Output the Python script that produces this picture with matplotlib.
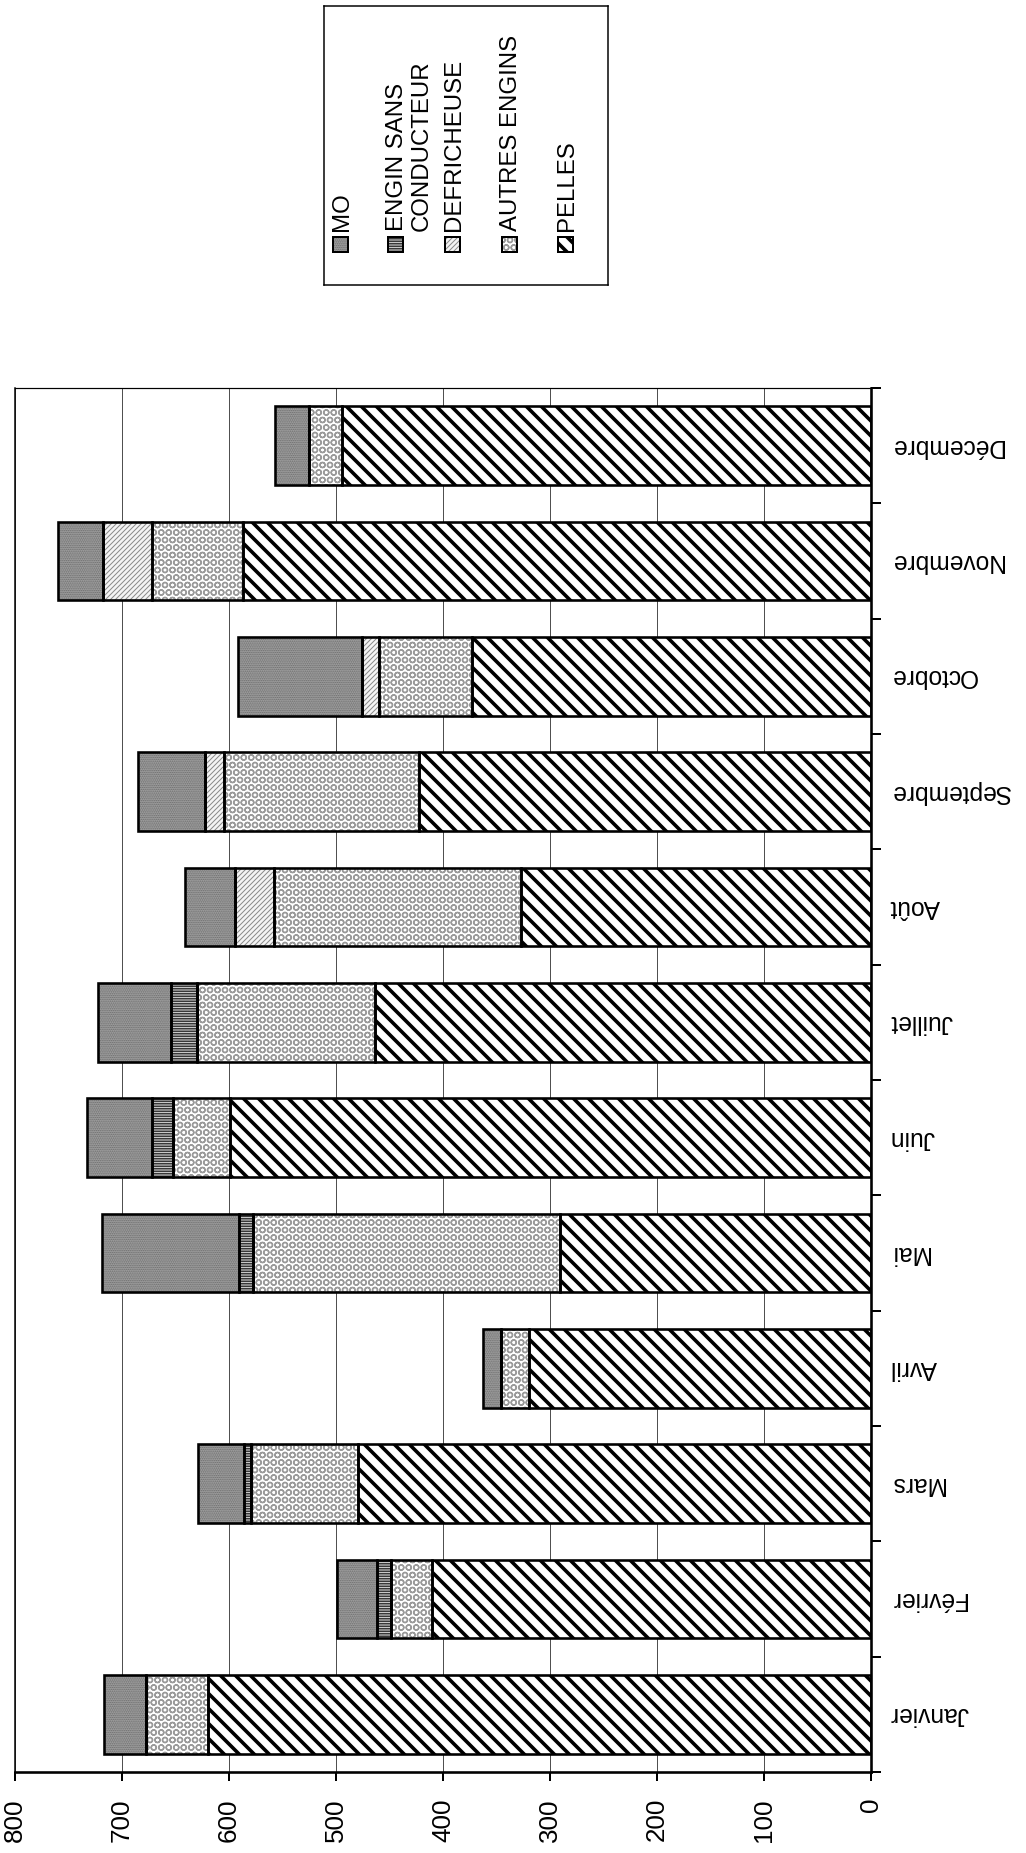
import numpy as np
import matplotlib
matplotlib.use('Agg')
import matplotlib.pyplot as plt
from matplotlib.patches import Rectangle

# ---------------- data ----------------
months = ['Janvier', 'Février', 'Mars', 'Avril', 'Mai', 'Juin', 'Juillet',
          'Août', 'Septembre', 'Octobre', 'Novembre', 'Décembre']
pelles      = [620, 410, 479, 320, 291, 599, 464, 327, 422, 373, 587, 494]
autres      = [58,  39, 100,  26, 287,  53, 166, 231, 183,  87,  85,  31]
defricheuse = [0,    0,   0,   0,   0,   0,   0,  36,  17,  16,  46,   0]
engin_sc    = [0,   13,   7,   0,  13,  20,  24,   0,   0,   0,   0,   0]
mo          = [39,  37,  43,  17, 128,  61,  68,  47,  63, 116,  42,  32]
legend_names = ['MO', 'ENGIN SANS\nCONDUCTEUR', 'DEFRICHEUSE', 'AUTRES ENGINS', 'PELLES']
value_ticks = [0, 100, 200, 300, 400, 500, 600, 700, 800]

# ---------------- setup ----------------
DPI = 90
W, H = 1026, 1853
plt.rcParams['font.family'] = ['Liberation Sans', 'DejaVu Sans']


def px(v):
    return v * 72.0 / DPI


fig = plt.figure(figsize=(W / DPI, H / DPI), dpi=DPI, facecolor='white')
ax = fig.add_axes([15 / W, 1 - 1772 / H, (871 - 15) / W, (1772 - 388) / H])

# styles: (facecolor, hatch, hatchcolor, hatch linewidth)
styles = {
    'MO': ('#a0a0a0', '........', '#6a6a6a', px(1.0)),
    'ENGIN': ('#c8c8c8', '------', '#2a2a2a', px(1.3)),
    'DEF': ('#f4f4f4', '//////', '#8a8a8a', px(1.0)),
    'AUTRES': ('white', 'OO', '#9a9a9a', px(1.4)),
    'PELLES': ('white', '\\\\', 'black', px(3.6)),
}

y = np.arange(len(months))
bar_h = 0.68
stack = [('PELLES', pelles), ('AUTRES', autres), ('DEF', defricheuse),
         ('ENGIN', engin_sc), ('MO', mo)]
left = np.zeros(len(months))
for key, vals in stack:
    fc, hatch, hc, hlw = styles[key]
    vals = np.array(vals, dtype=float)
    with plt.rc_context({'hatch.linewidth': hlw}):
        ax.barh(y, vals, left=left, height=bar_h, color=fc, edgecolor=hc,
                linewidth=0, hatch=hatch, zorder=2)
    ax.barh(y, vals, left=left, height=bar_h, fill=False, edgecolor='black',
            linewidth=px(2.6), zorder=3)
    left = left + vals

# axes
ax.set_xlim(800, 0)
ax.set_ylim(-0.5, 11.5)
ax.set_axisbelow(True)
ax.xaxis.grid(True, color='#505050', linewidth=px(1.0))
ax.set_xticks(value_ticks)
ax.set_xticklabels([str(v) for v in value_ticks], rotation=90, fontsize=px(26))
ax.tick_params(axis='x', direction='out', length=px(9), width=px(2), pad=px(17))

ax.yaxis.tick_right()
ax.set_yticks(np.arange(-0.5, 12, 1))
ax.set_yticklabels([])
ax.set_yticks(y, minor=True)
ax.set_yticklabels(months, minor=True, rotation=180, fontsize=px(24.5),
                   va='center', ha='left')
ax.tick_params(axis='y', which='major', direction='out', length=px(10), width=px(2))
ax.tick_params(axis='y', which='minor', length=0, pad=px(19))

ax.spines['top'].set_linewidth(px(1.2))
ax.spines['left'].set_linewidth(px(1.5))
ax.spines['bottom'].set_linewidth(px(2.6))
ax.spines['right'].set_linewidth(px(2.6))

# ---------------- legend (rotated, drawn manually) ----------------
lx0, lx1, ly0, ly1 = 324, 608, 6, 285
lax = fig.add_axes([lx0 / W, 1 - ly1 / H, (lx1 - lx0) / W, (ly1 - ly0) / H])
lax.set_xlim(lx0, lx1)
lax.set_ylim(ly1, ly0)
lax.set_xticks([])
lax.set_yticks([])
for s in lax.spines.values():
    s.set_linewidth(px(1.5))

legend_keys = ['MO', 'ENGIN', 'DEF', 'AUTRES', 'PELLES']
sw_left = [333, 388, 445, 502, 558]
for key, name, xl in zip(legend_keys, legend_names, sw_left):
    fc, hatch, hc, hlw = styles[key]
    with plt.rc_context({'hatch.linewidth': hlw}):
        lax.add_patch(Rectangle((xl, 237), 15, 15, facecolor=fc, edgecolor=hc,
                                linewidth=0, hatch=hatch))
    lax.add_patch(Rectangle((xl, 237), 15, 15, fill=False, edgecolor='black',
                            linewidth=px(2)))
    for i, line in enumerate(name.split('\n')):
        lax.text(xl + 9 + i * 25, 231, line, rotation=90, ha='center', va='bottom',
                 fontsize=px(24))

fig.savefig('out.png', dpi=DPI, facecolor='white')
